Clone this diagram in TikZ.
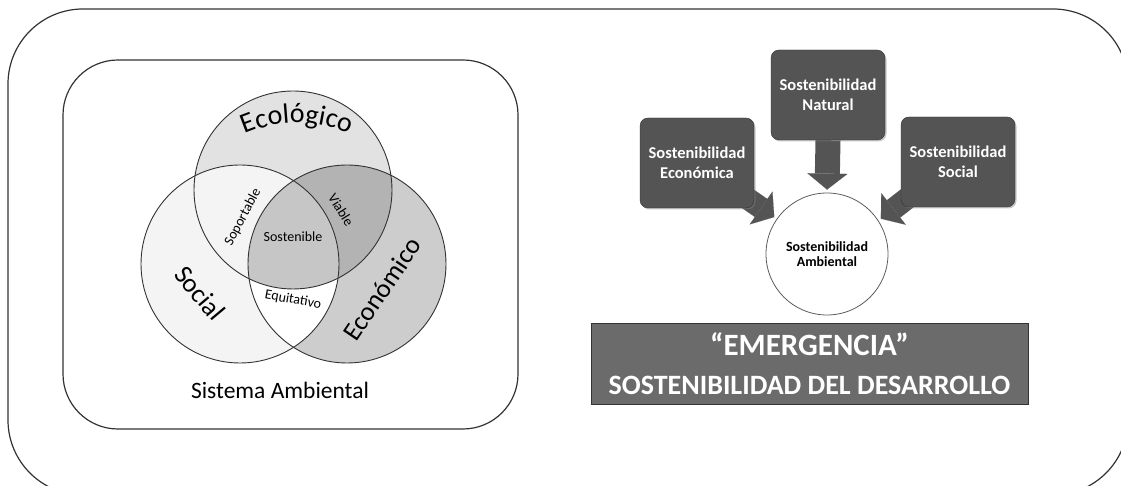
\documentclass[tikz,border=0pt]{standalone}
\usepackage{fontspec}
\setmainfont{Carlito}
\usetikzlibrary{positioning,arrows.meta,shadows,backgrounds,decorations.text}

\definecolor{frameLine}{HTML}{333333}
\definecolor{socialFill}{HTML}{F4F4F4}
\definecolor{ecoFill}{HTML}{E2E2E2}
\definecolor{econFill}{HTML}{CDCDCD}
\definecolor{viableFill}{HTML}{B3B3B3}
\definecolor{coreFill}{HTML}{C6C6C6}
\definecolor{boxFill}{HTML}{545454}
\definecolor{bannerFill}{HTML}{6B6B6B}

\begin{document}
\begin{tikzpicture}[
        x=1pt, y=1pt,
        frameBox/.style={draw=frameLine, line width=1.2pt},
        vennLine/.style={draw=frameLine, line width=0.9pt},
        vennLabel/.style={font=\fontsize{26.5}{27}\selectfont},
        zoneLabel/.style={font=\fontsize{14}{14}\selectfont},
        ambCircle/.style={circle, draw=frameLine!80, fill=white, line width=0.8pt,
        minimum size=122pt, inner sep=0pt, align=center,
        font=\bfseries\fontsize{14}{15}\selectfont},
        sustBox/.style={rectangle, rounded corners=8pt, fill=boxFill, draw=boxFill!60!black,
        minimum width=114pt, minimum height=90pt, text=white, align=center,
        font=\bfseries\fontsize{16.5}{20}\selectfont,
        drop shadow={shadow xshift=1.5pt, shadow yshift=-1.5pt, opacity=0.45}},
        calloutArrow/.style={draw=boxFill, line width=22pt, shorten >=3pt,
        -{Triangle[length=16pt, width=40pt, line width=0.1pt]}},
        bannerNode/.style={rectangle, fill=bannerFill, draw=frameLine, line width=0.8pt,
        minimum width=437pt, minimum height=81pt, text=white, align=center,
        font=\bfseries\fontsize{28}{39}\selectfont},
    ]
    \useasboundingbox (0,0) rectangle (1121,486);
    \clip (0,0) rectangle (1121,486);

    % outer and inner frames
    \draw[frameBox, rounded corners=75pt] (8,-9) rectangle (1128,477);
    \draw[frameBox, rounded corners=55pt] (63,57) rectangle (518,426);

    % three circles of the venn diagram
    \def\vr{99pt}
    \coordinate (ecoC)  at (293,296);
    \coordinate (socC)  at (240,222);
    \coordinate (econC) at (347,222);
    \fill[socialFill] (socC) circle[radius=\vr];
    \fill[ecoFill]    (ecoC) circle[radius=\vr];
    \fill[econFill]   (econC) circle[radius=\vr];
    \begin{scope}
        \clip (ecoC) circle[radius=\vr];
        \fill[viableFill] (econC) circle[radius=\vr];
    \end{scope}
    \begin{scope}
        \clip (socC) circle[radius=\vr];
        \fill[socialFill] (ecoC) circle[radius=\vr];
        \fill[white] (econC) circle[radius=\vr];
        \clip (ecoC) circle[radius=\vr];
        \fill[coreFill] (econC) circle[radius=\vr];
    \end{scope}
    \draw[vennLine] (socC) circle[radius=\vr];
    \draw[vennLine] (ecoC) circle[radius=\vr];
    \draw[vennLine] (econC) circle[radius=\vr];

    % venn labels
    \path[decorate, decoration={text along path, text align=center,
        text={|\fontsize{28}{28}\selectfont|Ecológico}}]
        (297,233) ++(114:130pt) arc[start angle=114, end angle=66, radius=130pt];
    \node[vennLabel] (socialLbl) [rotate=-50] at (200,193) {Social};
    \node[vennLabel] (econLbl)   [rotate=56]  at (382,197) {Económico};
    \node[zoneLabel] (soporLbl)  [rotate=62]  at (243,269) {Soportable};
    \node[zoneLabel] (viableLbl) [rotate=-58] at (341,276) {Viable};
    \node[zoneLabel] (equitLbl)  [rotate=-10] at (293,186) {Equitativo};
    \node[zoneLabel] (sostLbl)                at (293,249) {Sostenible};
    \node[font=\fontsize{23.5}{24}\selectfont] (sistLbl) at (280,96) {Sistema Ambiental};

    % sustainability cluster
    \node[ambCircle] (ambCircle) at (827,232) {Sostenibilidad\\Ambiental};
    \node[sustBox] (natBox) at ([shift={(1pt,159pt)}]ambCircle.center) {Sostenibilidad\\Natural};
    \node[sustBox] (ecoBox) at ([shift={(-130pt,91pt)}]ambCircle.center) {Sostenibilidad\\Económica};
    \node[sustBox] (socBox) at ([shift={(131pt,92pt)}]ambCircle.center) {Sostenibilidad\\Social};
    \begin{scope}[on background layer]
        \draw[calloutArrow, line width=25pt] (natBox.south) -- (ambCircle.north);
        \draw[calloutArrow] ([shift={(-13pt,14pt)}]ecoBox.south east) -- (ambCircle.145);
        \draw[calloutArrow] ([shift={(13pt,14pt)}]socBox.south west) -- (ambCircle.33);
    \end{scope}

    \node[bannerNode] (emergBanner) at (809.5,122.5)
        {{\fontsize{31}{39}\selectfont “EMERGENCIA”}\\SOSTENIBILIDAD DEL DESARROLLO};
\end{tikzpicture}
\end{document}
